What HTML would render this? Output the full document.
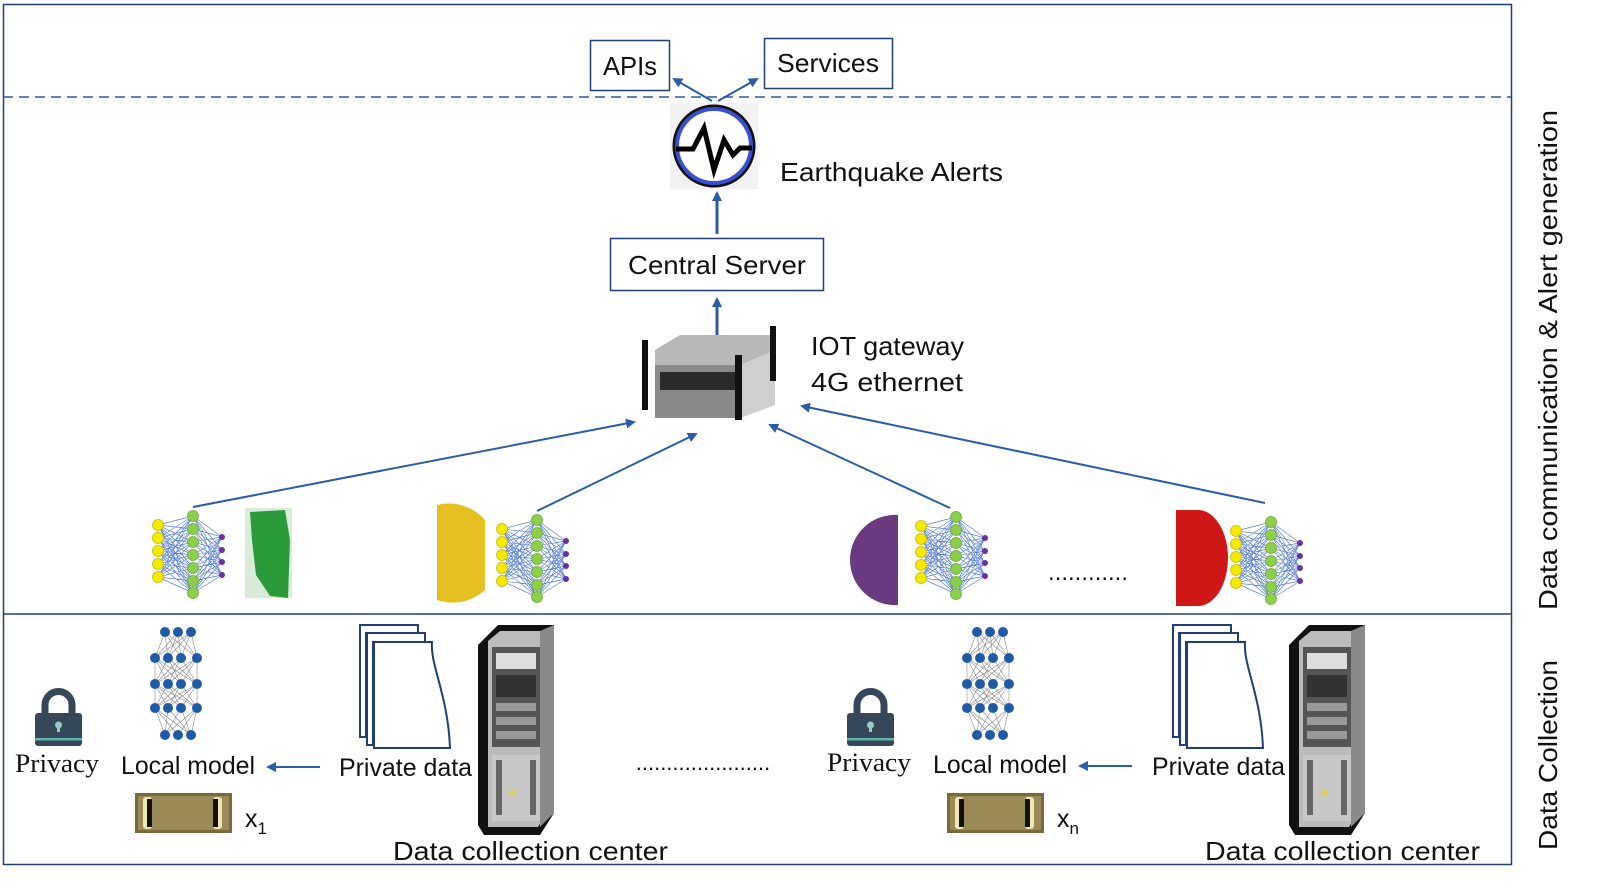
<!DOCTYPE html>
<html><head><meta charset="utf-8"><style>
html,body{margin:0;padding:0;background:#fff;}
svg{display:block;font-family:"Liberation Sans",sans-serif;}
</style></head><body>
<svg width="1600" height="896" viewBox="0 0 1600 896" xmlns="http://www.w3.org/2000/svg">
<defs>
<marker id="ah" markerWidth="10" markerHeight="10" refX="8" refY="5" orient="auto" markerUnits="userSpaceOnUse"><path d="M0,0 L10,5 L0,10 Z" fill="#2a5caa"/></marker>
<g id="net">
  <g stroke="#5b7fd6" stroke-width="0.7" fill="none">
    <path d="M0,9L35,0M0,9L35,13M0,9L35,26M0,9L35,39M0,9L35,52M0,9L35,65M0,9L35,77
M0,22L35,0M0,22L35,13M0,22L35,26M0,22L35,39M0,22L35,52M0,22L35,65M0,22L35,77
M0,35L35,0M0,35L35,13M0,35L35,26M0,35L35,39M0,35L35,52M0,35L35,65M0,35L35,77
M0,48L35,0M0,48L35,13M0,48L35,26M0,48L35,39M0,48L35,52M0,48L35,65M0,48L35,77
M0,61L35,0M0,61L35,13M0,61L35,26M0,61L35,39M0,61L35,52M0,61L35,65M0,61L35,77
M35,0L64,21M35,0L64,34M35,0L64,46M35,0L64,59
M35,13L64,21M35,13L64,34M35,13L64,46M35,13L64,59
M35,26L64,21M35,26L64,34M35,26L64,46M35,26L64,59
M35,39L64,21M35,39L64,34M35,39L64,46M35,39L64,59
M35,52L64,21M35,52L64,34M35,52L64,46M35,52L64,59
M35,65L64,21M35,65L64,34M35,65L64,46M35,65L64,59
M35,77L64,21M35,77L64,34M35,77L64,46M35,77L64,59"/>
  </g>
  <g fill="#f4ea00" stroke="#c8b800" stroke-width="0.8">
    <circle cx="0" cy="9" r="5.5"/><circle cx="0" cy="22" r="5.5"/><circle cx="0" cy="35" r="5.5"/><circle cx="0" cy="48" r="5.5"/><circle cx="0" cy="61" r="5.5"/>
  </g>
  <g fill="#8cd04a" stroke="#6aa83a" stroke-width="0.8">
    <circle cx="35" cy="0" r="5.5"/><circle cx="35" cy="13" r="5.5"/><circle cx="35" cy="26" r="5.5"/><circle cx="35" cy="39" r="5.5"/><circle cx="35" cy="52" r="5.5"/><circle cx="35" cy="65" r="5.5"/><circle cx="35" cy="77" r="5.5"/>
  </g>
  <g fill="#6a2fa0">
    <circle cx="64" cy="21" r="3"/><circle cx="64" cy="34" r="3"/><circle cx="64" cy="46" r="3"/><circle cx="64" cy="59" r="3"/>
  </g>
</g>
<g id="lnet">
  <g stroke="#888" stroke-width="0.6">
    <path d="M-13,0L-23,26M-13,0L-10,26M-13,0L3,26M-13,0L19,26M0,0L-23,26M0,0L-10,26M0,0L3,26M0,0L19,26M13,0L-23,26M13,0L-10,26M13,0L3,26M13,0L19,26
M-23,26L-10,52M-23,26L3,52M-23,26L19,52M-10,26L-23,52M-10,26L3,52M-10,26L19,52M3,26L-23,52M3,26L-10,52M3,26L19,52M19,26L-23,52M19,26L-10,52M19,26L3,52
M-23,52L-10,76M-23,52L3,76M-23,52L19,76M-10,52L-23,76M-10,52L3,76M-10,52L19,76M3,52L-23,76M3,52L-10,76M3,52L19,76M19,52L-23,76M19,52L-10,76M19,52L3,76
M-23,76L-13,103M-23,76L0,103M-23,76L13,103M-10,76L-13,103M-10,76L13,103M3,76L-13,103M3,76L13,103M19,76L-13,103M19,76L0,103M19,76L13,103M-23,26L-23,76M19,26L19,76"/>
  </g>
  <g fill="#1f5aa6">
    <circle cx="-13" cy="0" r="5"/><circle cx="0" cy="0" r="5"/><circle cx="13" cy="0" r="5"/>
    <circle cx="-23" cy="26" r="5"/><circle cx="-10" cy="26" r="5"/><circle cx="3" cy="26" r="5"/><circle cx="19" cy="26" r="5"/>
    <circle cx="-23" cy="52" r="5"/><circle cx="-10" cy="52" r="5"/><circle cx="3" cy="52" r="5"/><circle cx="19" cy="52" r="5"/>
    <circle cx="-23" cy="76" r="5"/><circle cx="-10" cy="76" r="5"/><circle cx="3" cy="76" r="5"/><circle cx="19" cy="76" r="5"/>
    <circle cx="-13" cy="103" r="5"/><circle cx="0" cy="103" r="5"/><circle cx="13" cy="103" r="5"/>
  </g>
</g>
<g id="lock">
  <path d="M10,26 V17 A13.5,13.5 0 0 1 37,17 V26" fill="none" stroke="#37475a" stroke-width="7"/>
  <rect x="0" y="25" width="47" height="33" rx="3" fill="#37475a"/>
  <rect x="0" y="50" width="47" height="2.5" fill="#5fb5a8"/>
  <circle cx="23.5" cy="37" r="3.5" fill="#8fd0c0"/><rect x="22" y="38" width="3" height="6" fill="#8fd0c0"/>
</g>
<g id="docs" fill="#fff" stroke="#1f3f75" stroke-width="2">
  <path d="M0,0 H58 V8 H6 V112 H0 Z"/>
  <path d="M7,8 H65 V17 H13 V120 H7 Z"/>
  <path d="M14,17 H72 C70,40 88,70 90,123 H14 Z"/>
</g>
<g id="server">
  <path d="M8,12 L20,0 H76 V188 L62,210 H6 L0,200 V20 Z" fill="#111"/>
  <path d="M10,16 L22,6 H70 V186 L60,202 H10 Z" fill="#bbb"/>
  <rect x="14" y="22" width="48" height="100" fill="#555"/>
  <rect x="18" y="28" width="40" height="16" fill="#ddd"/>
  <rect x="18" y="50" width="40" height="22" fill="#333"/>
  <rect x="18" y="78" width="40" height="8" fill="#999"/>
  <rect x="18" y="92" width="40" height="8" fill="#999"/>
  <rect x="18" y="106" width="40" height="8" fill="#999"/>
  <rect x="14" y="130" width="48" height="66" fill="#c8c8c8"/>
  <g fill="#666"><rect x="18" y="135" width="6" height="55"/><rect x="52" y="135" width="6" height="55"/></g>
  <circle cx="35" cy="168" r="3.5" fill="#d8d060"/>
  <path d="M62,6 L76,0 V188 L62,202 Z" fill="#8a8a8a"/>
</g>
<g id="chip">
  <rect x="0" y="0" width="97" height="40" fill="#7a6a3a"/>
  <rect x="3" y="3" width="91" height="34" fill="#9a8a55"/>
  <rect x="8" y="4" width="9" height="32" rx="3" fill="#f0e6b8"/><rect x="12" y="6" width="5" height="28" fill="#111"/>
  <rect x="78" y="4" width="9" height="32" rx="3" fill="#f0e6b8"/><rect x="78" y="6" width="5" height="28" fill="#111"/>
</g>
</defs>

<rect x="3.5" y="4.5" width="1508" height="860" fill="none" stroke="#1f3f75" stroke-width="1.5"/>
<line x1="3" y1="97" x2="1511" y2="97" stroke="#2a5a95" stroke-width="1.5" stroke-dasharray="10,6"/>
<line x1="3" y1="614" x2="1511" y2="614" stroke="#1f3f75" stroke-width="1.5"/>

<rect x="590.5" y="40.5" width="79" height="50" fill="#fff" stroke="#1f3f75" stroke-width="1.5"/>
<text x="603" y="75" font-size="26" fill="#111" textLength="54" lengthAdjust="spacingAndGlyphs">APIs</text>
<rect x="764.5" y="38.5" width="128" height="50" fill="#fff" stroke="#1f3f75" stroke-width="1.5"/>
<text x="777" y="72" font-size="26" fill="#111" textLength="102" lengthAdjust="spacingAndGlyphs">Services</text>
<line x1="712" y1="101" x2="674" y2="79" stroke="#2a5caa" stroke-width="2" marker-end="url(#ah)"/>
<line x1="718" y1="101" x2="757" y2="79" stroke="#2a5caa" stroke-width="2" marker-end="url(#ah)"/>

<rect x="670" y="103" width="88" height="86" fill="#f2f2f2"/>
<circle cx="714" cy="146" r="40" fill="#fff" stroke="#111" stroke-width="3"/>
<circle cx="714" cy="146" r="37" fill="none" stroke="#3a4fd0" stroke-width="4"/>
<path d="M676,149 H693 L704,128 L714,170 L724,140 L733,155 L740,148 H752" fill="none" stroke="#000" stroke-width="5"/>
<text x="780" y="181" font-size="26" fill="#111" textLength="223" lengthAdjust="spacingAndGlyphs">Earthquake Alerts</text>

<line x1="717" y1="234" x2="717" y2="193" stroke="#2a5caa" stroke-width="3" marker-end="url(#ah)"/>
<rect x="610.5" y="238.5" width="213" height="52" fill="#fff" stroke="#1f3f75" stroke-width="1.5"/>
<text x="628" y="274" font-size="26" fill="#111" textLength="178" lengthAdjust="spacingAndGlyphs">Central Server</text>
<line x1="717" y1="340" x2="717" y2="299" stroke="#2a5caa" stroke-width="3" marker-end="url(#ah)"/>

<g>
  <path d="M655,350 L680,335 H775 V405 L740,418 H655 Z" fill="#b8b8b8"/>
  <path d="M655,365 H740 V418 H655 Z" fill="#8a8a8a"/>
  <rect x="660" y="372" width="75" height="18" fill="#2a2a2a"/>
  <path d="M740,365 L775,350 V405 L740,418 Z" fill="#cfcfcf"/>
  <rect x="642" y="340" width="6" height="70" fill="#111"/>
  <rect x="735" y="355" width="7" height="65" fill="#111"/>
  <rect x="770" y="326" width="6" height="55" fill="#111"/>
</g>
<text x="811" y="355" font-size="26" fill="#111" textLength="153" lengthAdjust="spacingAndGlyphs">IOT gateway</text>
<text x="811" y="391" font-size="26" fill="#111" textLength="152" lengthAdjust="spacingAndGlyphs">4G ethernet</text>

<g stroke="#2a5caa" stroke-width="2" fill="none">
  <line x1="193" y1="507" x2="634" y2="422" marker-end="url(#ah)"/>
  <line x1="537" y1="511" x2="696" y2="434" marker-end="url(#ah)"/>
  <line x1="950" y1="508" x2="770" y2="425" marker-end="url(#ah)"/>
  <line x1="1265" y1="503" x2="802" y2="406" marker-end="url(#ah)"/>
</g>

<use href="#net" x="158" y="516"/>
<rect x="245" y="508" width="47" height="90" fill="#d8ecd8"/>
<path d="M250,512 L285,510 L290,540 L288,598 L270,596 L256,575 L252,540 Z" fill="#2a9a3a"/>
<path d="M437,505 A48,48 0 0 1 485,520 V590 A48,48 0 0 1 437,600 Z" fill="#e6c020"/>
<use href="#net" x="502" y="520"/>
<path d="M898,515 A45,45 0 0 0 850,560 A45,45 0 0 0 898,605 Z" fill="#6a3a80"/>
<use href="#net" x="921" y="517"/>
<text x="1088" y="580" font-size="24" text-anchor="middle" fill="#111">............</text>
<path d="M1176,510 H1198 A30,48 0 0 1 1198,606 H1176 Z" fill="#d01818"/>
<use href="#net" x="1236" y="522"/>

<use href="#lock" x="35" y="688"/>
<text x="15" y="772" font-size="26" font-family="Liberation Serif,serif" fill="#111" textLength="84" lengthAdjust="spacingAndGlyphs">Privacy</text>
<use href="#lnet" x="178" y="632"/>
<text x="121" y="774" font-size="25" fill="#111" textLength="134" lengthAdjust="spacingAndGlyphs">Local model</text>
<line x1="320" y1="767" x2="268" y2="767" stroke="#2a5caa" stroke-width="2" marker-end="url(#ah)"/>
<use href="#docs" x="360" y="625"/>
<text x="339" y="776" font-size="25" fill="#111" textLength="133" lengthAdjust="spacingAndGlyphs">Private data</text>
<use href="#server" x="478" y="625"/>
<use href="#chip" x="135" y="793"/>
<text x="245" y="827" font-size="25" fill="#111">x<tspan font-size="17" dy="7">1</tspan></text>
<text x="393" y="860" font-size="26" fill="#111" textLength="275" lengthAdjust="spacingAndGlyphs">Data collection center</text>

<text x="703" y="770" font-size="22" text-anchor="middle" fill="#111">......................</text>

<use href="#lock" x="847" y="688"/>
<text x="827" y="771" font-size="26" font-family="Liberation Serif,serif" fill="#111" textLength="84" lengthAdjust="spacingAndGlyphs">Privacy</text>
<use href="#lnet" x="990" y="632"/>
<text x="933" y="773" font-size="25" fill="#111" textLength="134" lengthAdjust="spacingAndGlyphs">Local model</text>
<line x1="1132" y1="766" x2="1080" y2="766" stroke="#2a5caa" stroke-width="2" marker-end="url(#ah)"/>
<use href="#docs" x="1173" y="625"/>
<text x="1152" y="775" font-size="25" fill="#111" textLength="133" lengthAdjust="spacingAndGlyphs">Private data</text>
<use href="#server" x="1289" y="625"/>
<use href="#chip" x="947" y="793"/>
<text x="1057" y="827" font-size="25" fill="#111">x<tspan font-size="17" dy="7">n</tspan></text>
<text x="1205" y="860" font-size="26" fill="#111" textLength="275" lengthAdjust="spacingAndGlyphs">Data collection center</text>

<text transform="translate(1557,360) rotate(-90)" font-size="26" text-anchor="middle" fill="#111" textLength="500" lengthAdjust="spacingAndGlyphs">Data communication &amp; Alert generation</text>
<text transform="translate(1557,755) rotate(-90)" font-size="26" text-anchor="middle" fill="#111" textLength="190" lengthAdjust="spacingAndGlyphs">Data Collection</text>
</svg>
</body></html>
